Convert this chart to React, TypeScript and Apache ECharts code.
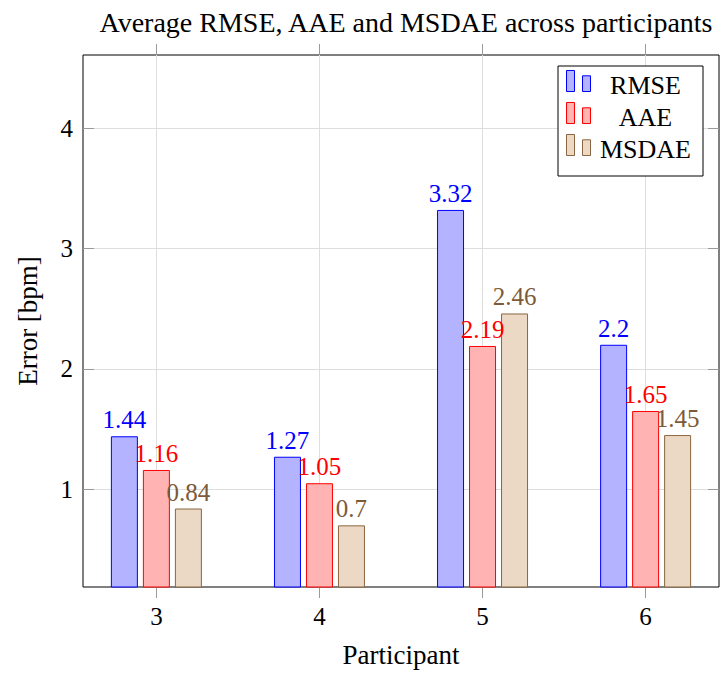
import React, { useEffect, useRef } from "react";
import * as echarts from "echarts";

const categories = [3, 4, 5, 6];
const rmse = [1.44, 1.27, 3.32, 2.2];
const aae = [1.16, 1.05, 2.19, 1.65];
const msdae = [0.84, 0.7, 2.46, 1.45];
const yTicks = [1, 2, 3, 4];
const seriesNames = ["RMSE", "AAE", "MSDAE"];

const FONT = '"Liberation Serif", "Times New Roman", serif';
const FILLS = ["#b3b3ff", "#ffb3b3", "#ebd9c5"];
const STROKES = ["#0000ff", "#ff0000", "#8a6540"];
const LABELS = ["#0000ff", "#ff0000", "#7d5a38"];

const X_MIN = 2.55;
const X_MAX = 6.45;
const Y_MIN = 0.188;
const Y_MAX = 4.607;

export default function App() {
  const ref = useRef<HTMLDivElement>(null);
  useEffect(() => {
    if (!ref.current) return;
    const chart = echarts.init(ref.current, null, { renderer: "svg" });
    const values = [rmse, aae, msdae];
    const tickColor = "#9a9a9a";
    const gridColor = "#dedede";
    const option: any = {
      animation: false,
      backgroundColor: "#fff",
      title: {
        text: "Average RMSE, AAE and MSDAE across participants",
        left: 401,
        textAlign: "center",
        top: 3,
        textStyle: { fontFamily: FONT, fontSize: 28, fontWeight: "normal", color: "#000" },
      },
      grid: {
        left: 83,
        top: 55,
        width: 636,
        height: 533,
        show: true,
        borderColor: "#000",
        borderWidth: 1,
        backgroundColor: "transparent",
      },
      legend: {
        orient: "vertical",
        left: 558,
        top: 66,
        padding: [4, 12, 14, 8],
        itemGap: 4,
        itemWidth: 24,
        itemHeight: 21,
        itemTextGap: 5,
        backgroundColor: "#fff",
        borderColor: "#000",
        borderWidth: 1,
        icon: "path://M0,0h8v21H0zM16,5.3h8v15.7h-8z",
        data: seriesNames.map((n, i) => ({
          name: n,
          itemStyle: { color: FILLS[i], borderColor: STROKES[i], borderWidth: 1 },
        })),
        formatter: (n: string) => "{a|" + n + "}",
        textStyle: {
          fontFamily: FONT,
          fontSize: 26,
          color: "#000",
          rich: {
            a: { width: 100, align: "center", fontFamily: FONT, fontSize: 26, padding: [8, 0, 0, 0] },
          },
        },
      },
      xAxis: [
        {
          type: "value",
          min: X_MIN,
          max: X_MAX,
          name: "Participant",
          nameLocation: "middle",
          nameGap: 54,
          nameTextStyle: { fontFamily: FONT, fontSize: 27, color: "#000" },
          axisLine: { show: false },
          axisTick: { show: true, inside: false, length: 11, customValues: categories, lineStyle: { color: tickColor } },
          axisLabel: {
            show: true,
            customValues: categories,
            margin: 17,
            fontFamily: FONT,
            fontSize: 25,
            color: "#000",
            formatter: (v: number) => String(v),
          },
          splitLine: { show: true, lineStyle: { color: gridColor, width: 1 } },
        },
        {
          type: "value",
          position: "top",
          min: X_MIN,
          max: X_MAX,
          axisLine: { show: false },
          axisTick: { show: true, inside: false, length: 11, customValues: categories, lineStyle: { color: tickColor } },
          axisLabel: { show: false },
          splitLine: { show: false },
        },
      ],
      yAxis: [
        {
          type: "value",
          min: Y_MIN,
          max: Y_MAX,
          name: "Error [bpm]",
          nameLocation: "middle",
          nameRotate: 90,
          nameGap: 42,
          nameTextStyle: { fontFamily: FONT, fontSize: 27, color: "#000" },
          axisLine: { show: false },
          axisTick: { show: true, inside: true, length: 11, customValues: yTicks, lineStyle: { color: tickColor } },
          axisLabel: {
            show: true,
            customValues: yTicks,
            margin: 10,
            fontFamily: FONT,
            fontSize: 25,
            color: "#000",
            formatter: (v: number) => String(v),
          },
          splitLine: { show: true, lineStyle: { color: gridColor, width: 1 } },
        },
        {
          type: "value",
          position: "right",
          min: Y_MIN,
          max: Y_MAX,
          axisLine: { show: false },
          axisTick: { show: true, inside: true, length: 11, customValues: yTicks, lineStyle: { color: tickColor } },
          axisLabel: { show: false },
          splitLine: { show: false },
        },
      ],
      series: seriesNames.map((n, i) => ({
        type: "bar",
        name: n,
        xAxisIndex: 0,
        yAxisIndex: 0,
        barWidth: 27,
        barGap: "18.5%",
        data: categories.map((c, k) => [c, values[i][k]]),
        itemStyle: { color: FILLS[i], borderColor: STROKES[i], borderWidth: 1 },
        label: {
          show: true,
          position: "top",
          distance: 4,
          fontFamily: FONT,
          fontSize: 25,
          color: LABELS[i],
          formatter: (p: any) => String(p.value[1]),
        },
      })),
    };
    chart.setOption(option);
    return () => chart.dispose();
  }, []);
  return (
    <div
      ref={ref}
      style={{ position: "fixed", left: 0, top: 0, width: 721, height: 673 }}
    />
  );
}
